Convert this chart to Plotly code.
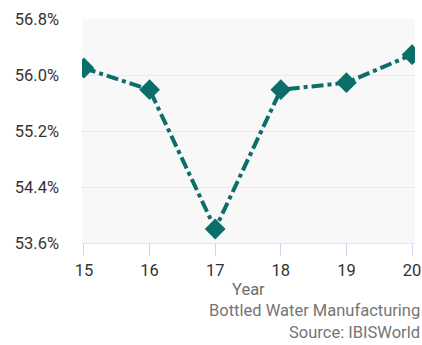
import plotly.graph_objects as go

# Bottled water manufacturing: yearly share values (%)
years = [15, 16, 17, 18, 19, 20]
share_pct = [56.10, 55.79, 53.80, 55.79, 55.89, 56.29]
y_ticks = [53.6, 54.4, 55.2, 56.0, 56.8]
title_x = "Year"
caption_lines = ["Bottled Water Manufacturing", "Source: IBISWorld"]

line_color = "#0b6e69"
font_family = "Roboto, 'Open Sans', sans-serif"

fig = go.Figure()
fig.add_trace(go.Scatter(
    x=years,
    y=share_pct,
    mode="lines+markers",
    line=dict(color=line_color, width=4, dash="dashdot"),
    marker=dict(symbol="diamond", size=16, color=line_color),
    hoverinfo="x+y",
    showlegend=False,
))

fig.update_layout(
    width=422,
    height=345,
    margin=dict(l=82, r=7, t=19, b=102),
    paper_bgcolor="white",
    plot_bgcolor="#f8f8f9",
    font=dict(family=font_family, color="#333333", size=16),
    xaxis=dict(
        range=[14.97, 20.045],
        tickvals=years,
        ticktext=[str(y) for y in years],
        automargin=False,
        showgrid=False,
        zeroline=False,
        showline=True,
        linecolor="#e6e6ea",
        linewidth=1,
        ticks="outside",
        ticklen=12,
        tickcolor="#ccd6eb",
        tickwidth=1,
        tickfont=dict(size=16.5, color="#333333"),
    ),
    yaxis=dict(
        range=[53.6, 56.8],
        tickvals=y_ticks,
        ticktext=[f"{v:.1f}%" for v in y_ticks],
        automargin=False,
        showgrid=True,
        gridcolor="#e9e9ec",
        gridwidth=1,
        zeroline=False,
        showline=False,
        ticks="",
        ticklabelstandoff=22,
        tickfont=dict(size=16.5, color="#333333"),
    ),
    annotations=[
        dict(text=title_x, xref="paper", yref="paper", x=0.5, y=-0.207,
             xanchor="center", yanchor="middle", showarrow=False,
             font=dict(size=16.5, color="#6e6e6e")),
        dict(text=caption_lines[0], xref="paper", yref="paper", x=1.022, y=-0.302,
             xanchor="right", yanchor="middle", showarrow=False,
             font=dict(size=16.5, color="#757575")),
        dict(text=caption_lines[1], xref="paper", yref="paper", x=1.022, y=-0.451,
             xanchor="right", yanchor="bottom", showarrow=False,
             font=dict(size=16.5, color="#757575")),
    ],
)

fig.write_html("out.html")
